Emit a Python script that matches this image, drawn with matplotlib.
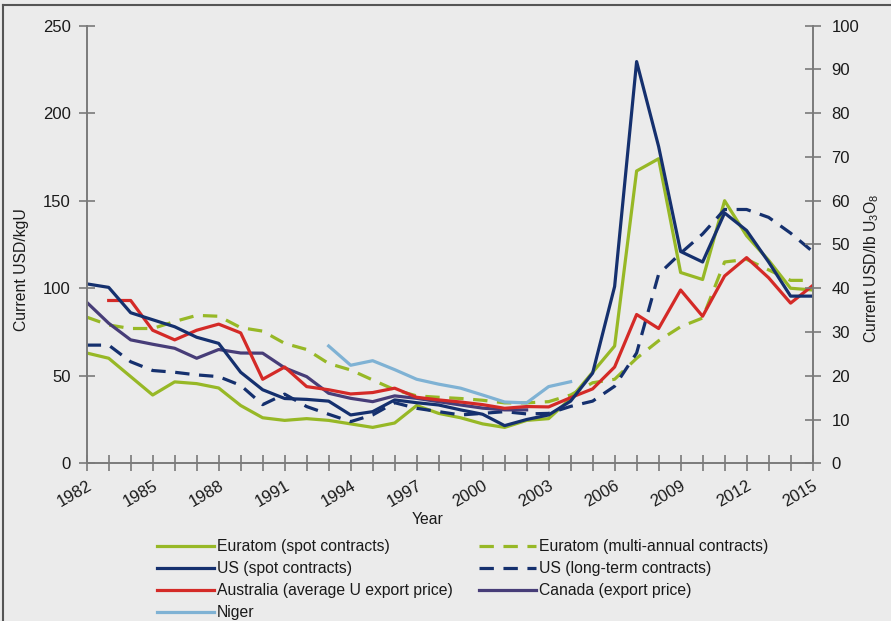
import matplotlib
matplotlib.use("Agg")
import matplotlib.pyplot as plt
from matplotlib.lines import Line2D

plt.rcParams['font.family'] = ['Liberation Sans', 'DejaVu Sans']
plt.rcParams['mathtext.default'] = 'regular'

years = list(range(1982, 2016))
tick_years = list(range(1982, 2016, 3))

# USD/kgU (None = no data)
euratom_spot = [63, 60, 49.5, 39, 46.5, 45.5, 43, 33, 26, 24.5, 25.5, 24.5, 22.5, 20.5, 23, 33,
                28.5, 26, 22.5, 20.5, 24.5, 25.5, 37, 52, 67, 167, 174, 109, 105, 150, 130, 116, 100, 99]
euratom_multi = [83.5, 79, 77, 77, 81, 84.5, 84, 77.5, 75.5, 68.5, 65, 57, 53.3, 47.6, 42, 38.5,
                 37.7, 37, 36, 34.5, 34.5, 35.2, 39, 46, 48, 60, 70, 78, 83, 115, 116.5, 110.5, 104.5, 104.5]
us_spot = [102.5, 100.5, 86, 82, 78, 72, 68.5, 52, 42, 37, 36.5, 35.5, 27.6, 29.5, 36.2, 34.6,
           33.3, 30.5, 28, 21.5, 25, 27.6, 35.5, 51.5, 101, 229.5, 181, 121, 115, 143, 133, 115, 95.5, 95.5]
us_longterm = [67.5, 67.5, 58, 53, 52, 50.5, 49.5, 44.5, 33.5, 39.5, 32.4, 28, 23.8, 27.6, 34.6, 31.4,
               29.5, 27.6, 28.5, 29.5, 28.2, 28.5, 32.5, 35.5, 44, 63, 108, 120, 131, 145, 145, 140.5, 131.5, 121]
australia = [None, 93, 93, 76, 70.5, 76, 79.5, 74.5, 48, 55, 43.8, 42, 39.6, 40.4, 42.9, 37.7,
             36.2, 35, 33.5, 31.4, 32.4, 32.2, 37.5, 42.5, 55, 85, 77, 99, 84, 107, 117.5, 106, 91.5, 101.5]
canada = [92, 80, 70.5, 68, 65.7, 60, 65, 63, 62.9, 54.5, 49.5, 40, 37.1, 35.2, 38.5, 37.1,
          35.2, 33.3, 31.5, 30.5, 30.5, None, None, None, None, None, None, None, None, None, None, None, None, None]
niger = [None] * 11 + [67, 56, 58.6, 53.5, 48, 45.2, 42.9, 39, 35, 34.5, 43.8, 46.6] + [None] * 11

GREEN = '#97b826'
NAVY = '#15306e'
RED = '#d42a27'
PURPLE = '#473d78'
LIGHTBLUE = '#7fb2d4'
BG = '#ebebeb'
AXC = '#7a7a7a'
TXT = '#1a1a1a'
FS = 11.3

fig = plt.figure(figsize=(8.91, 6.21), dpi=100, facecolor=BG)
ax = fig.add_axes([0.0973, 0.254, 0.8147, 0.7046])
ax.set_facecolor(BG)

dash = (4.5, 3.0)
lw = 2.3
l1, = ax.plot(years, euratom_spot, color=GREEN, lw=lw, label='Euratom (spot contracts)')
l2, = ax.plot(years, euratom_multi, color=GREEN, lw=lw, ls=(0, dash), label='Euratom (multi-annual contracts)')
l4, = ax.plot(years, us_longterm, color=NAVY, lw=lw, ls=(0, dash), label='US (long-term contracts)')
l7, = ax.plot(years, niger, color=LIGHTBLUE, lw=lw, label='Niger')
l6, = ax.plot(years, canada, color=PURPLE, lw=lw, label='Canada (export price)')
l5, = ax.plot(years, australia, color=RED, lw=lw, label='Australia (average U export price)')
l3, = ax.plot(years, us_spot, color=NAVY, lw=lw, label='US (spot contracts)')

ax.set_xlim(1982, 2015)
ax.set_ylim(0, 250)
ax.set_yticks(range(0, 251, 50))
ax.set_xticks(years)
ax.set_xticklabels([str(y) if y in tick_years else '' for y in years],
                   rotation=30, ha='right', rotation_mode='anchor')

ax2 = ax.twinx()
ax2.set_ylim(0, 100)
ax2.set_yticks(range(0, 101, 10))

for a in (ax, ax2):
    for s in a.spines.values():
        s.set_color(AXC)
        s.set_linewidth(1.2)
    a.spines['top'].set_visible(False)
    a.tick_params(direction='inout', length=11, width=1.2, color=AXC,
                  labelsize=FS + 0.7, labelcolor=TXT)
ax.tick_params(axis='x', pad=5)
ax.tick_params(axis='y', pad=6)
ax2.tick_params(axis='y', pad=8)

fig.text(22 / 891, 1 - 270 / 621, 'Current USD/kgU', rotation=90, ha='center', va='center',
         fontsize=FS, color=TXT)
fig.text(872 / 891, 1 - 268 / 621, 'Current USD/lb U$_3$O$_8$', rotation=90, ha='center', va='center',
         fontsize=FS, color=TXT)
fig.text(428 / 891, 1 - 520 / 621, 'Year', ha='center', va='center', fontsize=FS, color=TXT)

handles = [l1, l3, l5, l7, l2, l4, l6]
leg = fig.legend(handles=handles, labels=[h.get_label() for h in handles], ncol=2,
                 loc='upper left', bbox_to_anchor=(157 / 891, 1 - 539 / 621),
                 frameon=False, fontsize=FS, handlelength=3.6, handletextpad=0.2,
                 labelspacing=0.45, columnspacing=1.7, borderaxespad=0, borderpad=0)
for t in leg.get_texts():
    t.set_color(TXT)

# screenshot frame, top and left edges
fig.add_artist(Line2D([3 / 891, 3 / 891], [0, 1 - 5 / 621], transform=fig.transFigure,
                      color='#555555', lw=1.5))
fig.add_artist(Line2D([3 / 891, 1], [1 - 5 / 621, 1 - 5 / 621], transform=fig.transFigure,
                      color='#555555', lw=1.5))

fig.savefig('out.png', dpi=100, facecolor=BG)
